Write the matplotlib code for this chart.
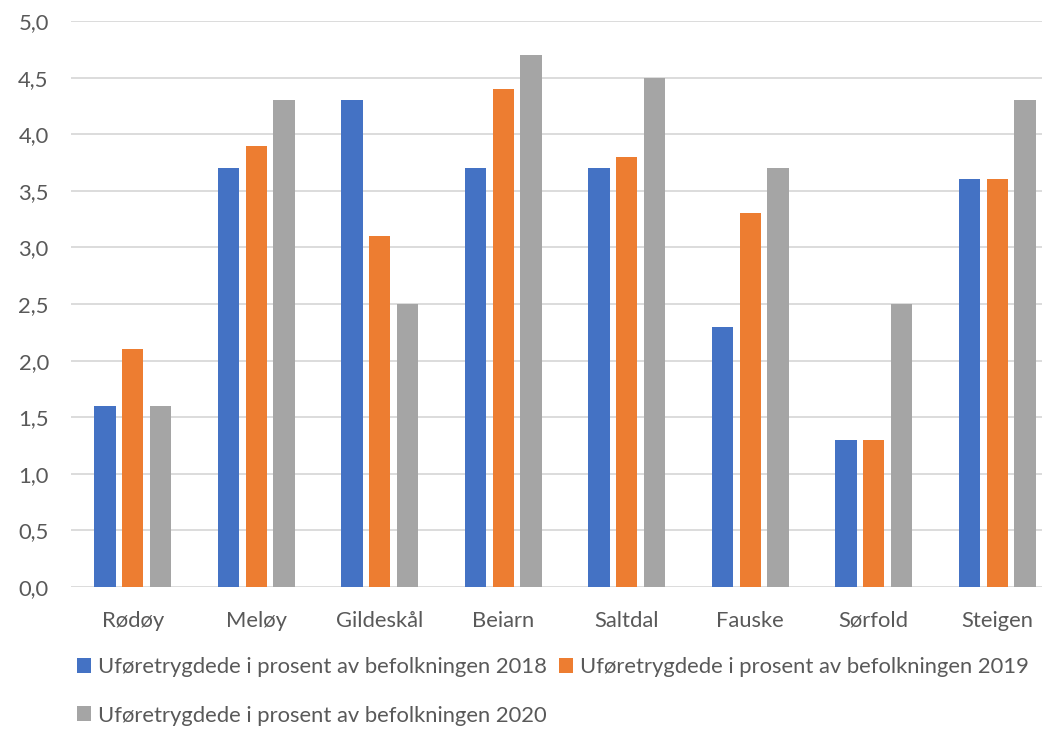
import matplotlib
matplotlib.use("Agg")
import matplotlib.pyplot as plt
import numpy as np

categories = ["Rødøy", "Meløy", "Gildeskål", "Beiarn", "Saltdal", "Fauske", "Sørfold", "Steigen"]
series_names = [
    "Uføretrygdede i prosent av befolkningen 2018",
    "Uføretrygdede i prosent av befolkningen 2019",
    "Uføretrygdede i prosent av befolkningen 2020",
]
v2018 = [1.6, 3.7, 4.3, 3.7, 3.7, 2.3, 1.3, 3.6]
v2019 = [2.1, 3.9, 3.1, 4.4, 3.8, 3.3, 1.3, 3.6]
v2020 = [1.6, 4.3, 2.5, 4.7, 4.5, 3.7, 2.5, 4.3]
yticks = [0.0, 0.5, 1.0, 1.5, 2.0, 2.5, 3.0, 3.5, 4.0, 4.5, 5.0]
colors = ["#4472C4", "#ED7D31", "#A5A5A5"]

plt.rcParams['font.family'] = ['Lato', 'DejaVu Sans']
text_color = "#595959"
fs = 15.8

W, H = 1042, 730
fig = plt.figure(figsize=(W / 100, H / 100), dpi=100)
left_px, right_px = 71, 1059
top_px, bot_px = 21, 587
ax = fig.add_axes([left_px / W, 1 - bot_px / H, (right_px - left_px) / W, (bot_px - top_px) / H])

x = np.arange(len(categories))
bw = 0.174
step = 0.223
handles = []
for i, (vals, name, c) in enumerate(zip([v2018, v2019, v2020], series_names, colors)):
    h = ax.bar(x + (i - 1) * step, vals, width=bw, color=c, label=name, zorder=3)
    handles.append(h)

ax.set_xlim(-0.5, len(categories) - 0.5)
ax.set_ylim(0, 5)
ax.set_yticks(yticks)
ax.set_yticklabels([f"{t:.1f}".replace(".", ",") for t in yticks])
ax.set_xticks(x)
ax.set_xticklabels(categories)
ax.tick_params(axis='both', length=0, labelsize=fs, colors=text_color)
ax.tick_params(axis='y', pad=16)
ax.tick_params(axis='x', pad=17)
ax.grid(axis='y', color="#D9D9D9", linewidth=1.3, zorder=0)
for s in ax.spines.values():
    s.set_visible(False)

order = [0, 2, 1]
leg = fig.legend(handles=[handles[i] for i in order], labels=[series_names[i] for i in order],
                 loc='upper left', bbox_to_anchor=(77 / W, 1 - 657 / H), ncol=2, frameon=False,
                 fontsize=fs, handlelength=0.65, handleheight=0.65, handletextpad=0.3,
                 columnspacing=0.55, labelspacing=1.3, borderaxespad=0, borderpad=0)
for t in leg.get_texts():
    t.set_color(text_color)

fig.savefig("out.png", dpi=100)
